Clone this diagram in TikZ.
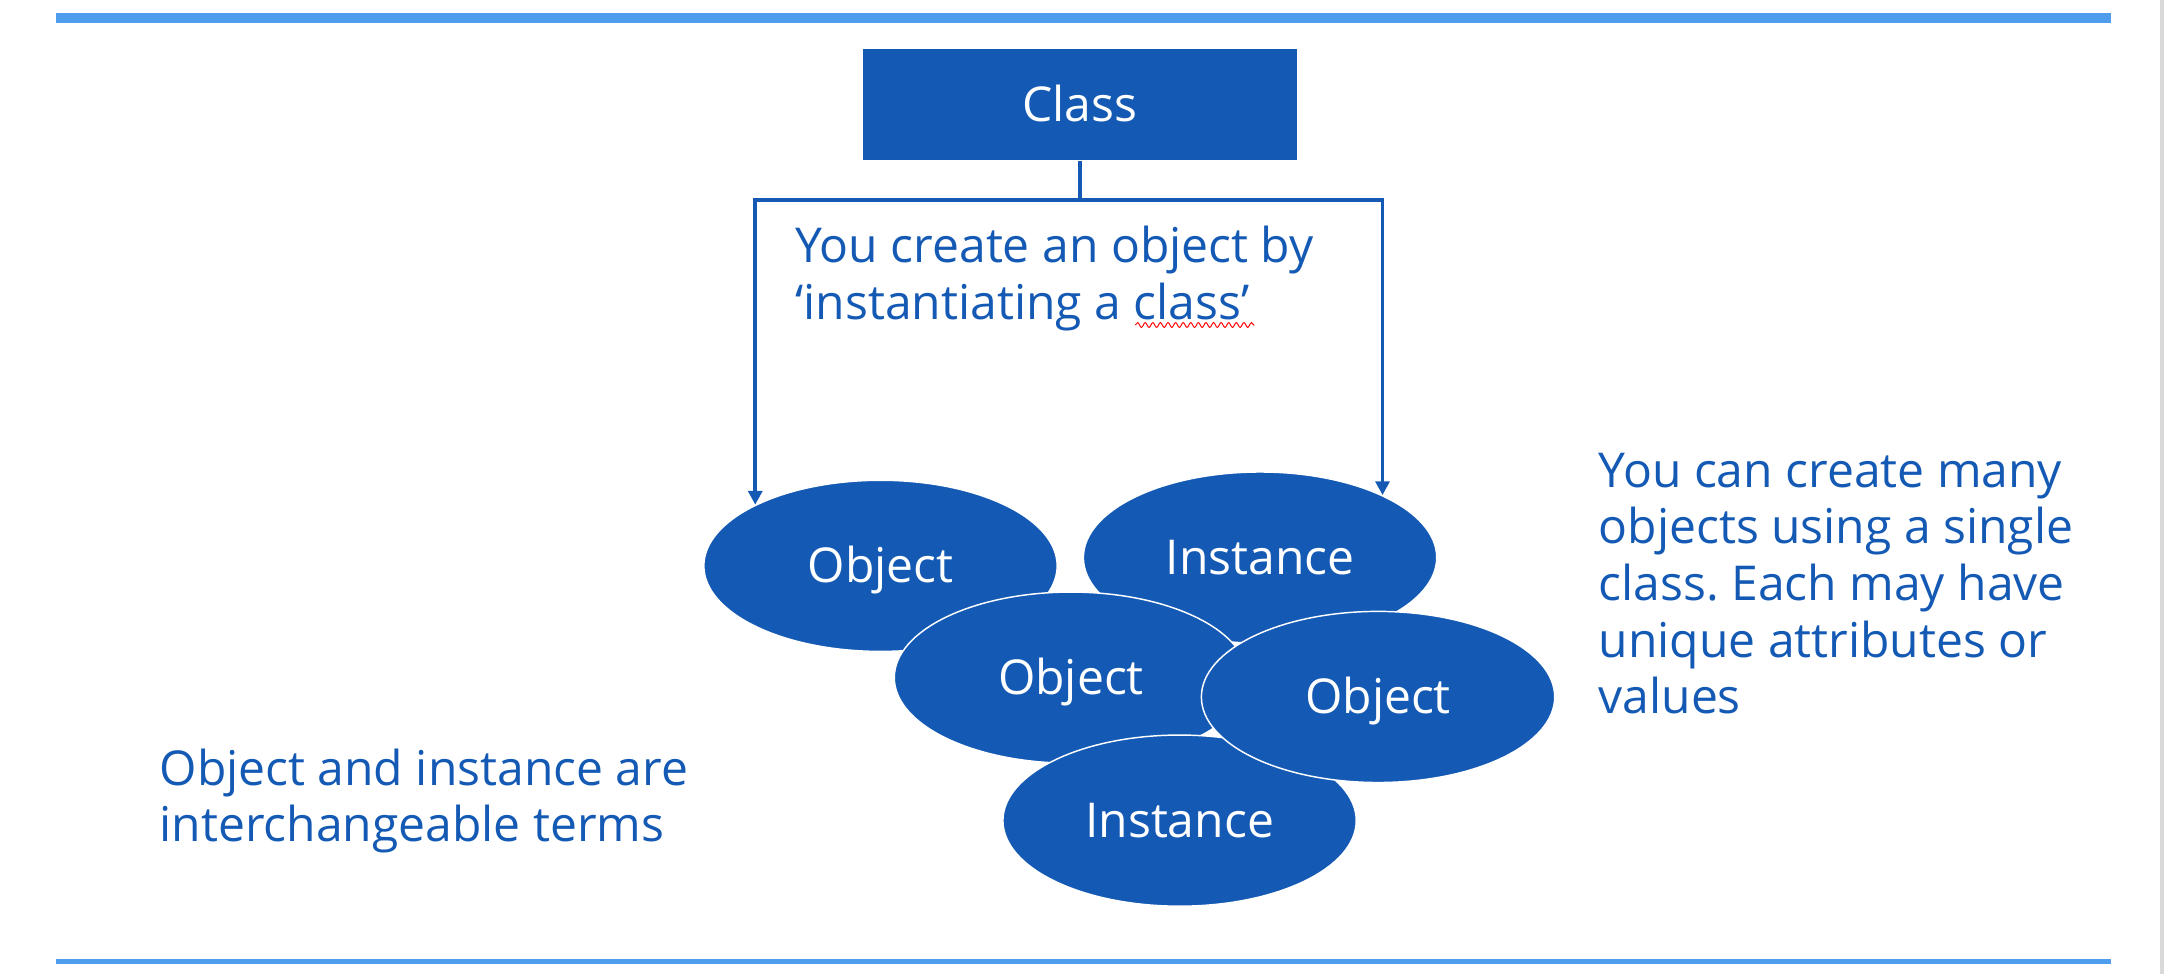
\documentclass[tikz,border=0pt]{standalone}
\usepackage{fontspec}
\setmainfont{Open Sans}
\usetikzlibrary{positioning}
\usetikzlibrary{shapes.geometric}
\usetikzlibrary{arrows.meta}
\usetikzlibrary{decorations.pathmorphing}
\definecolor{slideblue}{HTML}{145AB4}
\definecolor{ruleblue}{HTML}{4F9DED}
\definecolor{edgegray}{HTML}{D9D9D9}
\frenchspacing
\tikzset{
	every picture/.style={baseline},
	classbox/.style={rectangle,fill=slideblue,text=white,minimum width=62.8mm,minimum height=16.1mm,inner sep=0pt,text height=13.9pt,text depth=0pt},
	objnode/.style={ellipse,fill=slideblue,draw=white,line width=0.6pt,text=white,minimum width=51.2mm,minimum height=24.8mm,inner sep=0pt,text height=13.9pt,text depth=0pt},
	note/.style={anchor=base west,align=left,inner sep=0pt,text=slideblue},
	link/.style={draw=slideblue,line width=1.6pt},
}

\begin{document}
\begin{tikzpicture}[x=0.2mm,y=0.2mm,font=\fontsize{19.8}{23.3}\selectfont,>={Triangle[length=2mm,width=2mm]}]
	\useasboundingbox (0,0) rectangle (1568,706);

	%rules.....................
	\draw [ruleblue,line width=1.34mm] (40.7,693) -- (1529.5,693);
	\draw [ruleblue,line width=0.68mm] (40.7,9.5) -- (1529.5,9.5);
	\fill [edgegray] (1565,0) rectangle (1568,706);

	% class box...................
	\node [classbox] (cls) at (782.5,630) {Class};

	% objects and instances...................
	\node [objnode] (obj1) at (638,296) {Object};
	\node [objnode] (inst1) at (913,302) {Instance};
	\node [objnode] (obj2) at (776,215) {Object};
	\node [objnode] (inst2) at (854.7,111.4) {Instance};
	\node [objnode] (obj3) at (998.5,201) {Object};

	% connectors...................
	\coordinate [below=5.64mm of cls.south] (split);
	\draw [link] (cls.south) -- (split);
	\draw [link,->] (split) -| (obj1.154);
	\draw [link,->] (split) -| (inst1.27);

	% notes (anchored at the last line)...................
	\node [note] (create) at (576,474.5) {You create an object by\\‘instantiating a class’};
	\draw [red,line width=0.4pt,decorate,decoration={snake,amplitude=0.35mm,segment length=1.1mm}] (822.6,470.5) -- (908.8,470.5);
	\node [note] (many) at (1158,189) {You can create many\\objects using a single\\class. Each may have\\unique attributes or\\values};
	\node [note] (terms) at (115.3,96) {Object and instance are\\interchangeable terms};

\end{tikzpicture}
\end{document}
